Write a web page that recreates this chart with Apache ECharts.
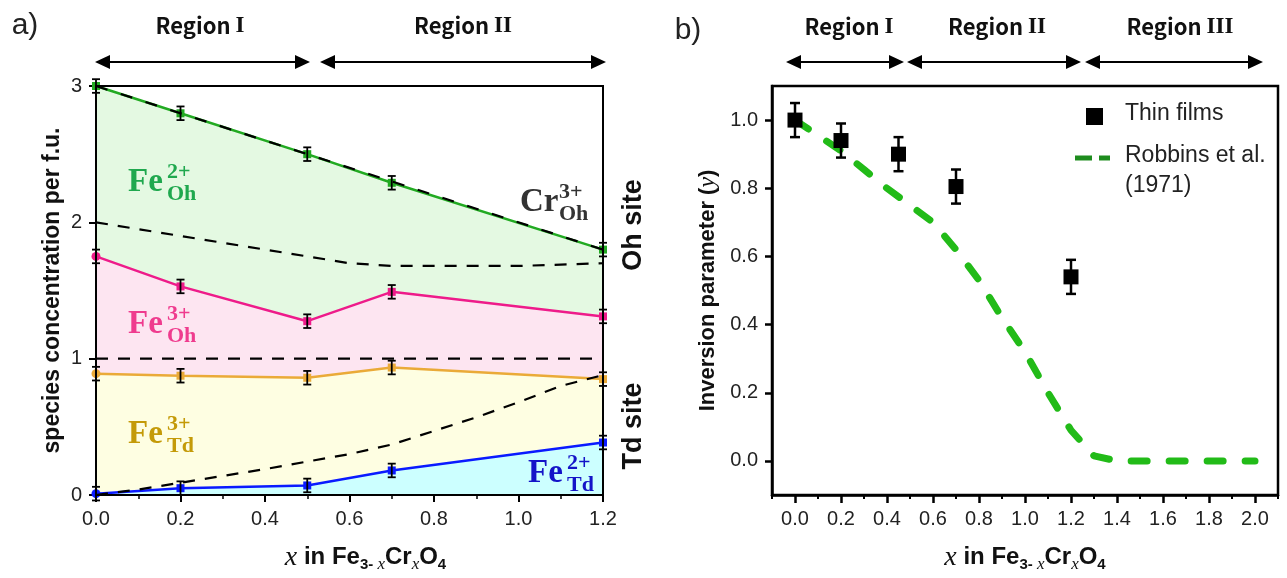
<!DOCTYPE html>
<html><head><meta charset="utf-8">
<script src="https://cdn.jsdelivr.net/npm/echarts@6/dist/echarts.min.js"></script>
<style>html,body{margin:0;padding:0;background:#fff}#c{width:1287px;height:578px}</style>
</head><body><div id="c"></div>
<script>
// ---------- Panel a) data ----------
const xA = [0, 0.2, 0.5, 0.7, 1.2];
const feTotal = [3.0, 2.8, 2.5, 2.29, 1.8];       // top of Fe2+ (Oh)
const fe3OhTop = [1.75, 1.53, 1.275, 1.49, 1.31];  // top of Fe3+ (Oh)
const fe3TdTop = [0.89, 0.875, 0.86, 0.935, 0.85]; // top of Fe3+ (Td)
const fe2Td = [0.01, 0.05, 0.07, 0.18, 0.385];     // Fe2+ (Td)
const errA = 0.05;
const xCr = [0, 1.2];
const crLine = [3.0, 1.8];
const siteLine = [1.0, 1.0];
const xTheory = [0, 0.1, 0.2, 0.3, 0.4, 0.5, 0.6, 0.7, 0.8, 0.9, 1.0, 1.1, 1.2];
const ohTheory = [2.0, 1.95, 1.9, 1.85, 1.8, 1.75, 1.70, 1.68, 1.68, 1.68, 1.68, 1.69, 1.70];
const tdTheory = [0.0, 0.04, 0.09, 0.14, 0.19, 0.245, 0.30, 0.37, 0.47, 0.57, 0.68, 0.80, 0.88];

// ---------- Panel b) data ----------
const xFilm = [0, 0.2, 0.45, 0.7, 1.2];
const yFilm = [1.0, 0.94, 0.90, 0.805, 0.54];
const errFilm = 0.05;
const xRob = [0, 0.1, 0.2, 0.3, 0.4, 0.5, 0.6, 0.7, 0.8, 0.9, 1.0, 1.1, 1.2, 1.3, 1.4, 1.6, 1.8, 2.0];
const yRob = [1.0, 0.955, 0.91, 0.855, 0.8, 0.75, 0.70, 0.62, 0.53, 0.42, 0.32, 0.20, 0.09, 0.015, 0, 0, 0, 0];
const xTicksB = [0, 0.2, 0.4, 0.6, 0.8, 1.0, 1.2, 1.4, 1.6, 1.8, 2.0];
const xMinorB = [-0.1, 0.1, 0.3, 0.5, 0.7, 0.9, 1.1, 1.3, 1.5, 1.7, 1.9, 2.1];
const yTicksB = [0, 0.2, 0.4, 0.6, 0.8, 1.0];

const zip = (xs, ys) => xs.map((x, i) => [x, ys[i]]);
const errData = (xs, ys, e) => xs.map((x, i) => [x, ys[i] - e, ys[i] + e]);

function errRender(capW, lw) {
  return function (params, api) {
    const x = api.value(0), lo = api.value(1), hi = api.value(2);
    const p1 = api.coord([x, lo]), p2 = api.coord([x, hi]);
    const st = { stroke: '#000', lineWidth: lw };
    return { type: 'group', children: [
      { type: 'line', shape: { x1: p1[0], y1: p1[1], x2: p2[0], y2: p2[1] }, style: st },
      { type: 'line', shape: { x1: p1[0] - capW, y1: p1[1], x2: p1[0] + capW, y2: p1[1] }, style: st },
      { type: 'line', shape: { x1: p2[0] - capW, y1: p2[1], x2: p2[0] + capW, y2: p2[1] }, style: st }
    ]};
  };
}

const SANS = '"Liberation Sans", Arial, sans-serif';
const SERIF = '"Liberation Serif", "Times New Roman", serif';
const tickLabel = { fontFamily: SANS, fontSize: 20, color: '#222' };

function areaLine(data, lineColor, fillColor, name, firstSymbol) {
  return {
    type: 'line', name: name, xAxisIndex: 0, yAxisIndex: 0,
    data: data.map((d, i) => (i === 0 && firstSymbol) ? { value: d, symbol: 'circle', symbolSize: 9 } : d),
    symbol: 'rect', symbolSize: 8, showSymbol: true,
    itemStyle: { color: lineColor, opacity: 1 },
    lineStyle: { color: lineColor, width: 2.5 },
    areaStyle: { color: fillColor, opacity: 1, origin: 'start' },
    z: 2
  };
}
function dashLine(data, w, dash) {
  return {
    type: 'line', xAxisIndex: 0, yAxisIndex: 0, data: data, showSymbol: false, symbol: 'none',
    lineStyle: { color: '#000', width: w, type: dash }, z: 3
  };
}

const xName = '{i|x}{t| in Fe}{s|3- }{si|x}{t|Cr}{si|x}{t|O}{s|4}';
const xNameRich = {
  i: { fontFamily: SERIF, fontStyle: 'italic', fontSize: 28, color: '#111' },
  t: { fontFamily: SANS, fontWeight: 'bold', fontSize: 24, color: '#111' },
  s: { fontFamily: SANS, fontWeight: 'bold', fontSize: 15, color: '#111', padding: [14, 0, 0, 0] },
  si: { fontFamily: SERIF, fontStyle: 'italic', fontSize: 17, color: '#111', padding: [14, 0, 0, 0] }
};

const option = {
  animation: false,
  backgroundColor: '#fff',
  grid: [
    { left: 96, top: 86, width: 507, height: 410, show: true, borderColor: '#000', borderWidth: 2, backgroundColor: 'transparent', z: 10 },
    { left: 772, top: 86, width: 506, height: 409, show: true, borderColor: '#000', borderWidth: 2.5, backgroundColor: 'transparent' }
  ],
  xAxis: [
    { type: 'value', gridIndex: 0, min: 0, max: 1.2, interval: 0.2,
      axisLine: { show: true, onZero: false, lineStyle: { color: '#000', width: 2 } },
      axisTick: { show: true, length: 7, lineStyle: { color: '#000', width: 2 } },
      minorTick: { show: true, splitNumber: 2, length: 4, lineStyle: { color: '#000', width: 1.5 } },
      axisLabel: Object.assign({ margin: 14, formatter: v => v.toFixed(1) }, tickLabel),
      splitLine: { show: false },
      name: xName, nameLocation: 'middle', nameGap: 47,
      nameTextStyle: { rich: xNameRich, padding: [0, 0, 0, 32] } },
    { type: 'value', gridIndex: 1, min: -0.1, max: 2.1,
      axisLine: { show: true, onZero: false, lineStyle: { color: '#000', width: 2.5 } },
      axisTick: { show: true, length: 8, customValues: xTicksB, lineStyle: { color: '#000', width: 2.5 } },
      axisLabel: Object.assign({ margin: 14, customValues: xTicksB, formatter: v => v.toFixed(1) }, tickLabel),
      splitLine: { show: false },
      name: xName, nameLocation: 'middle', nameGap: 47,
      nameTextStyle: { rich: xNameRich } },
    { type: 'value', gridIndex: 1, min: -0.1, max: 2.1, position: 'bottom',
      axisLine: { show: false, onZero: false },
      axisTick: { show: true, length: 4, customValues: xMinorB, lineStyle: { color: '#000', width: 2 } },
      axisLabel: { show: false }, splitLine: { show: false } }
  ],
  yAxis: [
    { type: 'value', gridIndex: 0, min: 0, max: 3, interval: 1,
      axisLine: { show: true, onZero: false, lineStyle: { color: '#000', width: 2 } },
      axisTick: { show: true, length: 7, lineStyle: { color: '#000', width: 2 } },
      axisLabel: Object.assign({ margin: 14 }, tickLabel),
      splitLine: { show: false },
      name: 'species concentration per f.u.', nameLocation: 'middle', nameGap: 32,
      nameTextStyle: { fontFamily: SANS, fontWeight: 'bold', fontSize: 23, color: '#111' } },
    { type: 'value', gridIndex: 1, min: -0.1, max: 1.1,
      axisLine: { show: true, onZero: false, lineStyle: { color: '#000', width: 2.5 } },
      axisTick: { show: true, length: 7, customValues: yTicksB, lineStyle: { color: '#000', width: 2.5 } },
      axisLabel: Object.assign({ margin: 14, customValues: yTicksB, formatter: v => v.toFixed(1) }, tickLabel),
      splitLine: { show: false },
      name: '{t|Inversion parameter (}{i|y}{t|)}', nameLocation: 'middle', nameGap: 52,
      nameTextStyle: { rich: {
        t: { fontFamily: SANS, fontWeight: 'bold', fontSize: 22, color: '#111' },
        i: { fontFamily: SERIF, fontStyle: 'italic', fontSize: 24, color: '#111' } } } }
  ],
  series: [
    areaLine(zip(xA, feTotal), '#22aa22', '#e4f9e2', 'Fe2+ Oh', false),
    areaLine(zip(xA, fe3OhTop), '#ee1b8a', '#fde5f1', 'Fe3+ Oh', true),
    areaLine(zip(xA, fe3TdTop), '#eaaa38', '#fefee2', 'Fe3+ Td', true),
    areaLine(zip(xA, fe2Td), '#0a1aff', '#ccffff', 'Fe2+ Td', true),
    dashLine(zip(xTheory, ohTheory), 2.2, [12, 10]),
    dashLine(zip(xTheory, tdTheory), 2.2, [12, 10]),
    dashLine(zip(xCr, crLine), 2.2, [12, 14]),
    dashLine(zip(xCr, siteLine), 2.2, [12, 10]),
    { type: 'custom', xAxisIndex: 0, yAxisIndex: 0, renderItem: errRender(4, 1.8),
      encode: { x: 0, y: [1, 2] },
      data: [].concat(errData(xA, feTotal, errA), errData(xA, fe3OhTop, errA),
                      errData(xA, fe3TdTop, errA), errData(xA, fe2Td, errA)), z: 5 },
    // panel b
    { type: 'line', xAxisIndex: 1, yAxisIndex: 1, data: zip(xRob, yRob), showSymbol: false, symbol: 'none',
      lineStyle: { color: '#22bb18', width: 7, type: [16, 22], cap: 'round' }, z: 2 },
    { type: 'custom', xAxisIndex: 1, yAxisIndex: 1, renderItem: errRender(5, 2.5),
      encode: { x: 0, y: [1, 2] }, data: errData(xFilm, yFilm, errFilm), z: 4 },
    { type: 'scatter', xAxisIndex: 1, yAxisIndex: 1, data: zip(xFilm, yFilm), symbol: 'rect', symbolSize: 15,
      itemStyle: { color: '#000', opacity: 1 }, z: 5 }
  ],
  graphic: []
};

const g = [];
function txt(x, y, text, font, fill, align, rot) {
  g.push({ type: 'text', x: x, y: y, rotation: rot || 0, z: 100,
    style: { text: text, font: font, fill: fill, align: align || 'left', verticalAlign: 'middle' } });
}
function ion(x, y, base, sup, sub, color) {
  txt(x, y, base, 'bold 33px ' + SERIF, color);
  txt(x + 39, y - 10, sup, 'bold 22px ' + SERIF, color);
  txt(x + 39, y + 12, sub, 'bold 22px ' + SERIF, color);
}
function region(x, y, num) {
  g.push({ type: 'text', x: x, y: y, z: 100, style: {
    text: '{a|Region }{b|' + num + '}', align: 'center', verticalAlign: 'middle',
    rich: {
      a: { font: 'bold 22px "Noto Sans CJK KR", "Noto Sans", sans-serif', fill: '#111' },
      b: { font: 'bold 23px ' + SERIF, fill: '#111' }
    } } });
}
function arrow(x1, x2, y) {
  const h = 15, w = 7;
  g.push({ type: 'line', z: 100, shape: { x1: x1 + 4, y1: y, x2: x2 - 4, y2: y }, style: { stroke: '#000', lineWidth: 2.2 } });
  g.push({ type: 'polygon', z: 100, shape: { points: [[x1, y], [x1 + h, y - w], [x1 + h, y + w]] }, style: { fill: '#000' } });
  g.push({ type: 'polygon', z: 100, shape: { points: [[x2, y], [x2 - h, y - w], [x2 - h, y + w]] }, style: { fill: '#000' } });
}

// panel labels
txt(25, 26, 'a)', '30px ' + SANS, '#222', 'center');
txt(688, 31, 'b)', '30px ' + SANS, '#222', 'center');
// region labels
region(200, 26, 'I');
region(463, 26, 'II');
region(849, 27, 'I');
region(997, 27, 'II');
region(1180, 27, 'III');
arrow(95, 310, 62); arrow(320, 606, 62);
arrow(786, 904, 62); arrow(907, 1081, 62); arrow(1085, 1263, 62);
// ion labels
ion(128, 182, 'Fe', '2+', 'Oh', '#1fa84e');
ion(128, 324, 'Fe', '3+', 'Oh', '#ef3b8e');
ion(128, 434, 'Fe', '3+', 'Td', '#c49a08');
ion(528, 473, 'Fe', '2+', 'Td', '#1414c8');
ion(520, 202, 'Cr', '3+', 'Oh', '#333333');
// site labels
txt(634, 225, 'Oh site', 'bold 27px ' + SANS, '#111', 'center', Math.PI / 2);
txt(634, 426, 'Td site', 'bold 27px ' + SANS, '#111', 'center', Math.PI / 2);
// legend panel b
g.push({ type: 'rect', z: 100, shape: { x: 1086, y: 108, width: 17, height: 17 }, style: { fill: '#000' } });
txt(1125, 114, 'Thin films', '23px ' + SANS, '#222');
g.push({ type: 'line', z: 100, shape: { x1: 1075, y1: 158, x2: 1092, y2: 158 }, style: { stroke: '#1e8c1e', lineWidth: 5 } });
g.push({ type: 'line', z: 100, shape: { x1: 1099, y1: 158, x2: 1110, y2: 158 }, style: { stroke: '#1e8c1e', lineWidth: 5 } });
txt(1125, 156, 'Robbins et al.', '23px ' + SANS, '#222');
txt(1125, 186, '(1971)', '23px ' + SANS, '#222');

option.graphic = g;
const chart = echarts.init(document.getElementById('c'), null, { renderer: 'canvas' });
chart.setOption(option);
</script>
</body></html>
